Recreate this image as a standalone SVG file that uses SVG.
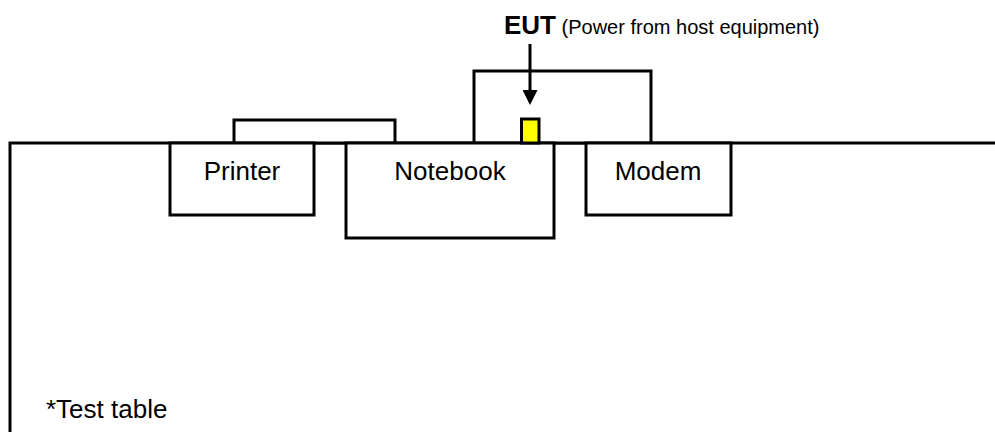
<svg xmlns="http://www.w3.org/2000/svg" width="995" height="432" viewBox="0 0 995 432">
<defs>
<style>
.b{fill:#fff;stroke:#000;stroke-width:3}
.t{font-family:"Liberation Sans",Arial,sans-serif;font-size:26px;fill:#000;text-anchor:middle}
</style>
<marker id="ah" markerWidth="5" markerHeight="5" refX="4" refY="2.5" orient="auto" markerUnits="strokeWidth">
<path d="M0,0 L5,2.5 L0,5 Z" fill="#000"/>
</marker>
</defs>
<rect width="995" height="432" fill="#fff"/>
<g id="table">
<path d="M10,432 V143 H995" fill="none" stroke="#000" stroke-width="3"/>
<text x="46" y="418" class="t" style="text-anchor:start">*Test table</text>
</g>
<g id="printer">
<rect x="234" y="120" width="161" height="23" class="b"/>
<rect x="170" y="143" width="144" height="72" class="b"/>
<text x="242" y="180" class="t">Printer</text>
</g>
<g id="notebook">
<rect x="474" y="71" width="177" height="72" class="b"/>
<rect x="346" y="143" width="208" height="95" class="b"/>
<text x="450" y="180" class="t">Notebook</text>
</g>
<g id="modem">
<rect x="586" y="143" width="145" height="72" class="b"/>
<text x="658" y="180" class="t">Modem</text>
</g>
<g id="eut">
<rect x="521.5" y="119" width="17.5" height="24" fill="#ffff00" stroke="#000" stroke-width="3"/>
<text x="504" y="34" style="font-family:'Liberation Sans',Arial,sans-serif;fill:#000"><tspan font-size="26" font-weight="bold">EUT</tspan><tspan font-size="20"> (Power from host equipment)</tspan></text>
</g>
<g id="connectors">
<line x1="530" y1="44" x2="530" y2="102" stroke="#000" stroke-width="3" marker-end="url(#ah)"/>
</g>
</svg>
